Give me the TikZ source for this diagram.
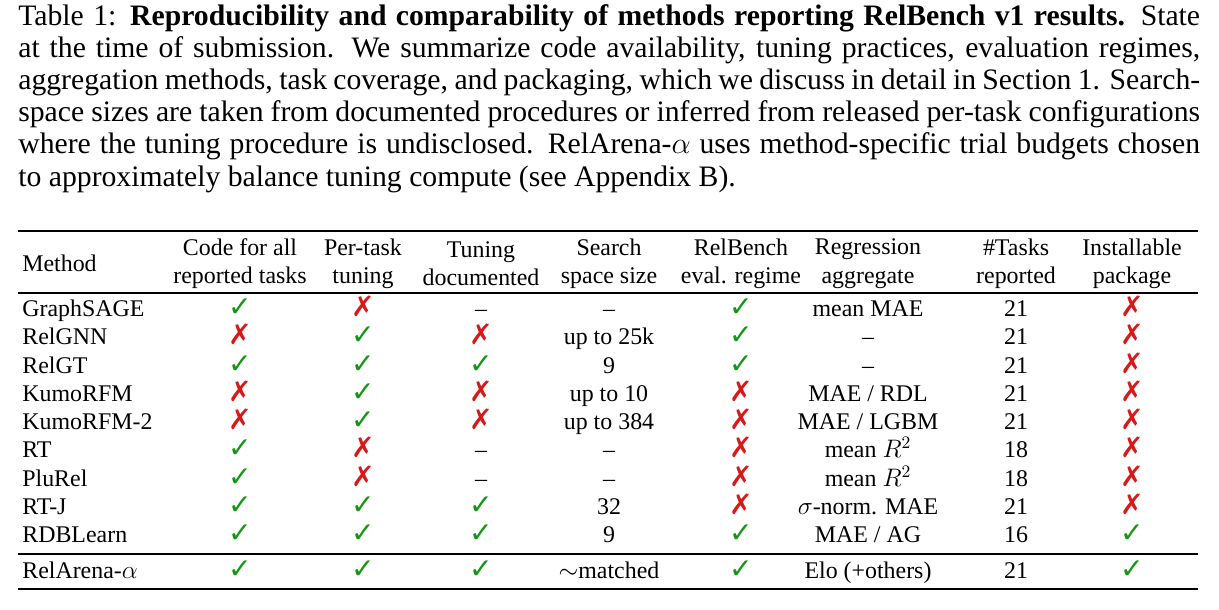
\documentclass[tikz,border=0pt]{standalone}
\usepackage{fontspec}
\setmainfont{Liberation Serif}
\newfontfamily\symfont{DejaVu Sans}
\definecolor{okgreen}{RGB}{20,150,20}
\definecolor{badred}{RGB}{215,25,25}
\newcommand{\yes}{{\symfont\fontsize{16}{17}\selectfont\color{okgreen}✓}}
\newcommand{\no}{{\symfont\fontsize{16}{17}\selectfont\color{badred}✗}}
\newcommand{\na}{--}
\tikzset{cell/.style={inner sep=0pt, anchor=center, font=\fontsize{13.6}{16.2}\selectfont,
   align=center, text height=1.6ex, text depth=.45ex, yshift=-1.5pt}}
\tikzset{head/.style={cell, text height=, text depth=, yshift=0pt}}
\tikzset{rule/.style={line width=1.1pt}}
\tikzset{thinrule/.style={line width=0.6pt}}

\begin{document}
\begin{tikzpicture}[x=0.02cm, y=-0.02cm]
    \useasboundingbox (0,0) rectangle (1219,609);

    % caption
    \node[anchor=north west, inner sep=0pt, text width=23.64cm, align=justify,
          font=\fontsize{16.9}{18.3}\selectfont] (cap) at (18,4)
    {Table 1: \textbf{Reproducibility and comparability of methods reporting RelBench v1 results.} State at the time of submission. We summarize code availability, tuning practices, evaluation regimes, aggregation methods, task coverage, and packaging, which we discuss in detail in Section 1. Search-space sizes are taken from documented procedures or inferred from released per-task configurations where the tuning procedure is undisclosed. RelArena-$\alpha$ uses method-specific trial budgets chosen to approximately balance tuning compute (see Appendix B).};

    % rules
    \draw[rule] (18,231) -- (1198,231);
    \draw[thinrule] (18,293) -- (1198,293);
    \draw[thinrule] (18,554) -- (1198,554);
    \draw[rule] (18,589) -- (1198,589);

    % header
    \node[head, anchor=west] (h0) at (22,261) {Method};
    \foreach \x/\t [count=\j] in {240/{Code for all\\reported tasks}, 363/{Per-task\\tuning},
        481/{Tuning\\documented}, 609/{Search\\space size}, 741/{RelBench\\eval. regime},
        868/{Regression\\aggregate}, 1016/{\#Tasks\\reported}, 1132/{Installable\\package}}
      \node[head] (h\j) at (\x,261) {\t};

    % body
    \foreach \y/\m/\a/\b/\c/\d/\e/\f/\g/\h [count=\i] in {
        309/GraphSAGE/\yes/\no/\na/\na/\yes/{mean MAE}/21/\no,
        337/RelGNN/\no/\yes/\no/{up to 25k}/\yes/\na/21/\no,
        366/RelGT/\yes/\yes/\yes/9/\yes/\na/21/\no,
        394/KumoRFM/\no/\yes/\no/{up to 10}/\no/{MAE / RDL}/21/\no,
        422/KumoRFM-2/\no/\yes/\no/{up to 384}/\no/{MAE / LGBM}/21/\no,
        450/RT/\yes/\no/\na/\na/\no/{mean $R^2$}/18/\no,
        479/PluRel/\yes/\no/\na/\na/\no/{mean $R^2$}/18/\no,
        507/RT-J/\yes/\yes/\yes/32/\no/{$\sigma$-norm. MAE}/21/\no,
        535/RDBLearn/\yes/\yes/\yes/9/\yes/{MAE / AG}/16/\yes,
        571/RelArena-$\alpha$/\yes/\yes/\yes/{$\sim$matched}/\yes/{Elo (+others)}/21/\yes}
    {
      \node[cell, anchor=west] (r\i-0) at (22,\y) {\m};
      \node[cell] (r\i-1) at (240,\y) {\a};
      \node[cell] (r\i-2) at (363,\y) {\b};
      \node[cell] (r\i-3) at (481,\y) {\c};
      \node[cell] (r\i-4) at (609,\y) {\d};
      \node[cell] (r\i-5) at (741,\y) {\e};
      \node[cell] (r\i-6) at (868,\y) {\f};
      \node[cell] (r\i-7) at (1016,\y) {\g};
      \node[cell] (r\i-8) at (1132,\y) {\h};
    }

\end{tikzpicture}
\end{document}
